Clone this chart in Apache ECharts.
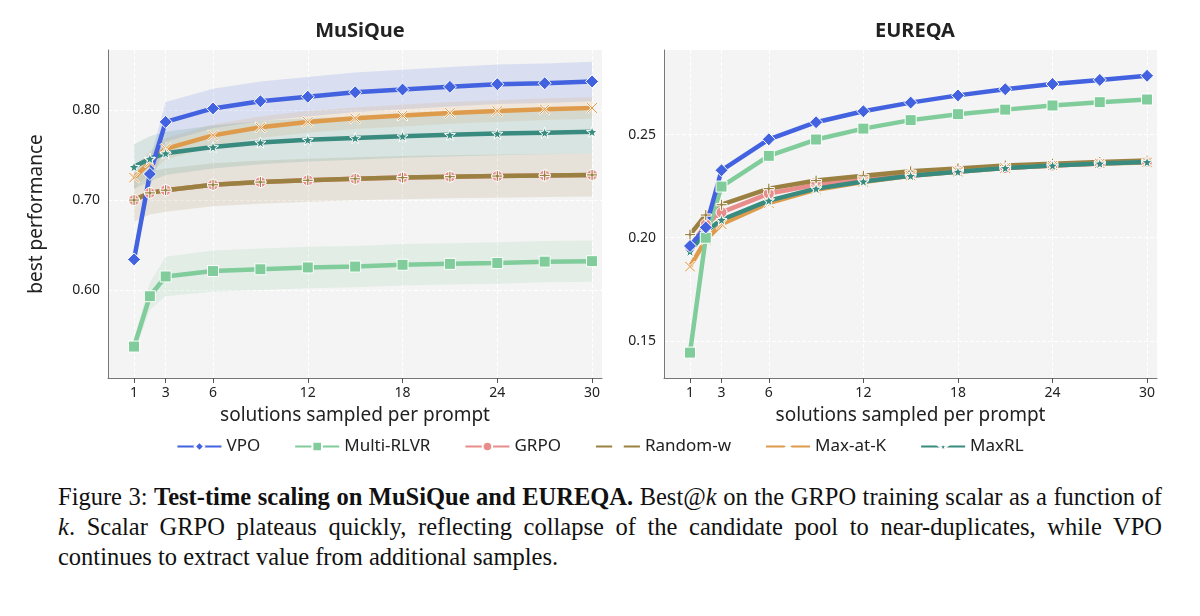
<!DOCTYPE html><html><head><meta charset="utf-8"><script src="https://cdn.jsdelivr.net/npm/echarts@6/dist/echarts.min.js"></script>
<style>body{margin:0;background:#fff}#c{width:1200px;height:470px}#cap{position:absolute;left:58px;top:482px;width:1104px;font-family:"Liberation Serif","DejaVu Serif",serif;font-size:24.5px;line-height:30px;color:#111;text-align:justify}</style></head><body>
<div id="c"></div>
<div id="cap">Figure 3: <b>Test-time scaling on MuSiQue and EUREQA.</b> Best@<i>k</i> on the GRPO training scalar as a function of <i>k</i>. Scalar GRPO plateaus quickly, reflecting collapse of the candidate pool to near-duplicates, while VPO continues to extract value from additional samples.</div>
<script>
const ks=[1,2,3,6,9,12,15,18,21,24,27,30];
const names=['VPO','Multi-RLVR','GRPO','Random-w','Max-at-K','MaxRL'];
const colors=['#4262e0','#80cc9b','#e88c8c','#9a8141','#de9b4c','#3a8b7f'];
const mus_VPO=[0.634,0.729,0.787,0.802,0.810,0.815,0.820,0.823,0.826,0.829,0.830,0.832];
const mus_Multi=[0.537,0.593,0.615,0.621,0.623,0.625,0.626,0.628,0.629,0.630,0.6315,0.632];
const mus_GRPO=[0.700,0.708,0.711,0.717,0.720,0.722,0.7237,0.725,0.726,0.7267,0.7274,0.728];
const mus_Rand=[0.700,0.708,0.711,0.717,0.720,0.722,0.7237,0.725,0.726,0.7267,0.7274,0.728];
const mus_MaxK=[0.725,0.742,0.757,0.772,0.781,0.787,0.791,0.794,0.797,0.799,0.801,0.8025];
const mus_MaxRL=[0.737,0.746,0.752,0.759,0.764,0.767,0.769,0.771,0.7726,0.774,0.775,0.776];
const musBand_VPO=[0.008,0.015,0.022,0.022,0.022,0.022,0.022,0.022,0.022,0.022,0.022,0.022];
const musBand_Multi=[0.008,0.015,0.022,0.023,0.023,0.023,0.023,0.023,0.023,0.023,0.023,0.023];
const musBand_Rand=[0.024,0.024,0.024,0.024,0.024,0.024,0.024,0.024,0.024,0.024,0.024,0.024];
const musBand_MaxK=[0.012,0.012,0.012,0.012,0.012,0.012,0.012,0.012,0.012,0.012,0.012,0.012];
const musBand_MaxRL=[0.025,0.025,0.024,0.024,0.024,0.024,0.024,0.024,0.024,0.024,0.024,0.024];
const eur_VPO=[0.196,0.205,0.2327,0.2477,0.256,0.2613,0.2655,0.269,0.272,0.2745,0.2765,0.2785];
const eur_Multi=[0.1443,0.200,0.2248,0.2397,0.2476,0.2529,0.257,0.2599,0.2621,0.2641,0.2657,0.267];
const eur_GRPO=[0.1953,0.2065,0.2123,0.2214,0.2257,0.2288,0.2307,0.2327,0.2338,0.235,0.236,0.2367];
const eur_Rand=[0.2015,0.211,0.216,0.2238,0.2277,0.230,0.2322,0.2336,0.235,0.2359,0.2367,0.2374];
const eur_MaxK=[0.186,0.199,0.2066,0.2168,0.2233,0.227,0.230,0.232,0.2338,0.235,0.236,0.2365];
const eur_MaxRL=[0.1934,0.203,0.2087,0.218,0.2238,0.2273,0.230,0.232,0.2338,0.235,0.236,0.2367];
const xTicks=[1,3,6,12,18,24,30];
const musTicks=[0.6,0.7,0.8], eurTicks=[0.15,0.2,0.25];

const plus='path://M4,0H6V4H10V6H6V10H4V6H0V4H4Z';
const cross='path://M1,0L5,4L9,0L10,1L6,5L10,9L9,10L5,6L1,10L0,9L4,5L0,1Z';
const symbols=['diamond','rect','circle',plus,cross,'path://M5,0L6.2,3.6L10,3.8L7,6.1L8.1,9.8L5,7.6L1.9,9.8L3,6.1L0,3.8L3.8,3.6Z'];
const symSize=[13,11,11,11,11,11];
const mus=[mus_VPO,mus_Multi,mus_GRPO,mus_Rand,mus_MaxK,mus_MaxRL];
const musB=[musBand_VPO,musBand_Multi,musBand_Rand,musBand_Rand,musBand_MaxK,musBand_MaxRL];
const eur=[eur_VPO,eur_Multi,eur_GRPO,eur_Rand,eur_MaxK,eur_MaxRL];
const grids=[{left:108,top:50,width:494,height:328},{left:664,top:50,width:493,height:328}];
const xAxis=[0,1].map(i=>({type:'value',gridIndex:i,min:-0.65,max:30.63,name:'solutions sampled per prompt',nameLocation:'middle',nameGap:28,nameTextStyle:{fontSize:19,color:'#222',fontFamily:'Noto Sans'},
 axisLine:{onZero:false,lineStyle:{color:'#777'}},axisTick:{customValues:xTicks,lineStyle:{color:'#555'}},axisLabel:{customValues:xTicks,fontSize:14,color:'#222',fontFamily:'Noto Sans'},
 splitLine:{show:true,lineStyle:{color:'#fff',type:'dashed'}}}));
const yAxis=[{min:0.502,max:0.867,t:musTicks,name:'best performance'},{min:0.132,max:0.291,t:eurTicks,name:''}].map((a,i)=>({type:'value',gridIndex:i,min:a.min,max:a.max,name:a.name,nameLocation:'middle',nameGap:62,nameTextStyle:{fontSize:19,color:'#222',fontFamily:'Noto Sans'},
 axisLine:{show:true,onZero:false,lineStyle:{color:'#777'}},axisTick:{show:false,customValues:a.t},axisLabel:{customValues:a.t,fontSize:14,color:'#222',fontFamily:'Noto Sans',formatter:v=>v.toFixed(2)},
 splitLine:{show:true,lineStyle:{color:'#fff',type:'dashed'}}}));
const series=[];
names.forEach((n,i)=>{ if(i===2) return;
 series.push({type:'custom',xAxisIndex:0,yAxisIndex:0,silent:true,z:1,data:[0],renderItem:(p,api)=>{
  const up=ks.map((k,j)=>api.coord([k,mus[i][j]+musB[i][j]]));
  const lo=ks.map((k,j)=>api.coord([k,mus[i][j]-musB[i][j]])).reverse();
  return {type:'polygon',shape:{points:up.concat(lo)},style:{fill:colors[i],opacity:0.15}};}});
});
[mus,eur].forEach((D,g)=>{
 const order=[2,3,4,5,1,0];
 order.forEach(i=>series.push({type:'line',name:names[i],xAxisIndex:g,yAxisIndex:g,data:ks.map((k,j)=>[k,D[i][j]]),
  symbol:symbols[i],symbolSize:symSize[i],showAllSymbol:true,z:3,lineStyle:{width:4.5,color:colors[i]},
  itemStyle:{color:colors[i],borderColor:'#fff',borderWidth:1}}));
});
const ch=echarts.init(document.getElementById('c'));
ch.setOption({animation:false,backgroundColor:'#fff',
 title:[{text:'MuSiQue',left:355,top:16,textAlign:'center',textStyle:{fontSize:20,fontWeight:'bold',color:'#222',fontFamily:'Noto Sans'}},
        {text:'EUREQA',left:910,top:16,textAlign:'center',textStyle:{fontSize:20,fontWeight:'bold',color:'#222',fontFamily:'Noto Sans'}}],
 grid:grids.map(g=>Object.assign({show:true,backgroundColor:'#f4f4f4',borderWidth:0},g)),
 xAxis,yAxis,series,
 legend:{data:names,top:433,left:'center',itemGap:34,itemWidth:44,itemHeight:12,textStyle:{fontSize:17,color:'#222',fontFamily:'Noto Sans'}}
});
</script></body></html>
